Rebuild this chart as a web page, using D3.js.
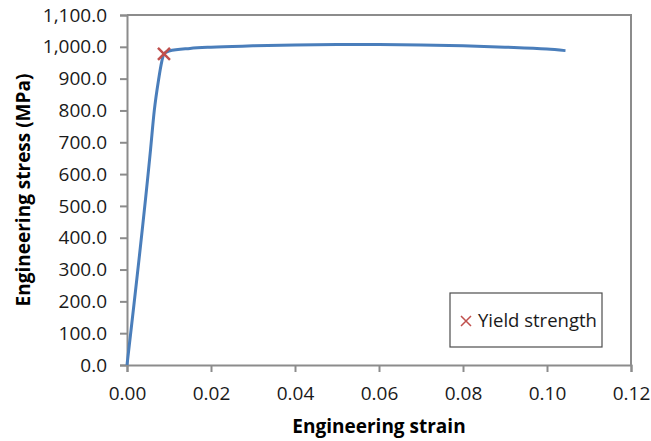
<!DOCTYPE html>
<html>
<head>
<meta charset="utf-8">
<script src="https://cdn.jsdelivr.net/npm/d3@7"></script>
<style>
  html, body { margin: 0; padding: 0; background: #fff; }
  svg { display: block; }
  text { font-family: "Open Sans", sans-serif; }
</style>
</head>
<body>
<div id="chart"></div>
<script>
// Data
const strain = [0, 0.0056, 0.0065, 0.0075, 0.0083, 0.0088, 0.010, 0.015, 0.020, 0.030, 0.040, 0.050, 0.060, 0.070, 0.080, 0.090, 0.100, 0.1044];
const stress = [0, 676, 800, 895, 955, 978, 987, 995, 999, 1003, 1006, 1007, 1007, 1006, 1003, 999, 993, 988];
const yieldStrain = [0.0088];
const yieldStress = [978];
const xTicks = [0, 0.02, 0.04, 0.06, 0.08, 0.10, 0.12];
const yTicks = [0, 100, 200, 300, 400, 500, 600, 700, 800, 900, 1000, 1100];
const xTitle = "Engineering strain";
const yTitle = "Engineering stress (MPa)";
const legendLabel = "Yield strength";

const W = 651, H = 441;
const m = { left: 127, top: 15, right: 631, bottom: 365 };

const svg = d3.select("#chart").append("svg").attr("width", W).attr("height", H);

const x = d3.scaleLinear().domain([0, 0.12]).range([m.left, m.right]);
const y = d3.scaleLinear().domain([0, 1100]).range([m.bottom, m.top]);

const gray = "#8c8c8c";

// Frame (top and right borders)
svg.append("path")
  .attr("d", `M${m.left},${m.top}H${m.right}V${m.bottom}`)
  .attr("fill", "none").attr("stroke", gray).attr("stroke-width", 2);

// Axes
const fmtY = d3.format(",.1f");
const yAxis = svg.append("g").attr("transform", `translate(${m.left},0)`)
  .call(d3.axisLeft(y).tickValues(yTicks).tickFormat(fmtY).tickSize(7).tickPadding(13));
const xAxis = svg.append("g").attr("transform", `translate(0,${m.bottom})`)
  .call(d3.axisBottom(x).tickValues(xTicks).tickFormat(d3.format(".2f")).tickSize(7).tickPadding(15));

[xAxis, yAxis].forEach(g => {
  g.select(".domain").attr("stroke", gray).attr("stroke-width", 2);
  g.selectAll(".tick line").attr("stroke", gray).attr("stroke-width", 2);
  g.selectAll(".tick text").attr("fill", "#1a1a1a").style("font-size", "19px").style("font-family", "'Open Sans', sans-serif");
});

// Line
const line = d3.line().x((d, i) => x(strain[i])).y((d, i) => y(stress[i])).curve(d3.curveMonotoneX);
svg.append("path").datum(stress)
  .attr("d", line)
  .attr("fill", "none").attr("stroke", "#4a7ebb").attr("stroke-width", 3)
  .attr("stroke-linejoin", "round");

// Yield marker
function cross(g, cx, cy, s, sw) {
  g.append("path")
    .attr("d", `M${cx - s},${cy - s}L${cx + s},${cy + s}M${cx - s},${cy + s}L${cx + s},${cy - s}`)
    .attr("stroke", "#c0504d").attr("stroke-width", sw).attr("fill", "none");
}
yieldStrain.forEach((d, i) => cross(svg, x(d), y(yieldStress[i]), 6, 2.5));

// Legend
const lg = svg.append("g");
lg.append("rect").attr("x", 450).attr("y", 293).attr("width", 152).attr("height", 54)
  .attr("fill", "#fff").attr("stroke", "#4d4d4d").attr("stroke-width", 1.2);
cross(lg, 466, 321, 5, 1.5);
lg.append("text").attr("x", 478).attr("y", 327).text(legendLabel)
  .style("font-size", "18.5px").attr("fill", "#1a1a1a");

// Axis titles
svg.append("text").attr("x", 379).attr("y", 433)
  .attr("text-anchor", "middle").style("font-size", "19px").style("font-weight", "bold")
  .attr("fill", "#000").text(xTitle);
svg.append("text")
  .attr("transform", `translate(30,${(m.top + m.bottom) / 2}) rotate(-90)`)
  .attr("text-anchor", "middle").style("font-size", "19px").style("font-weight", "bold")
  .attr("fill", "#000").text(yTitle);
</script>
</body>
</html>
